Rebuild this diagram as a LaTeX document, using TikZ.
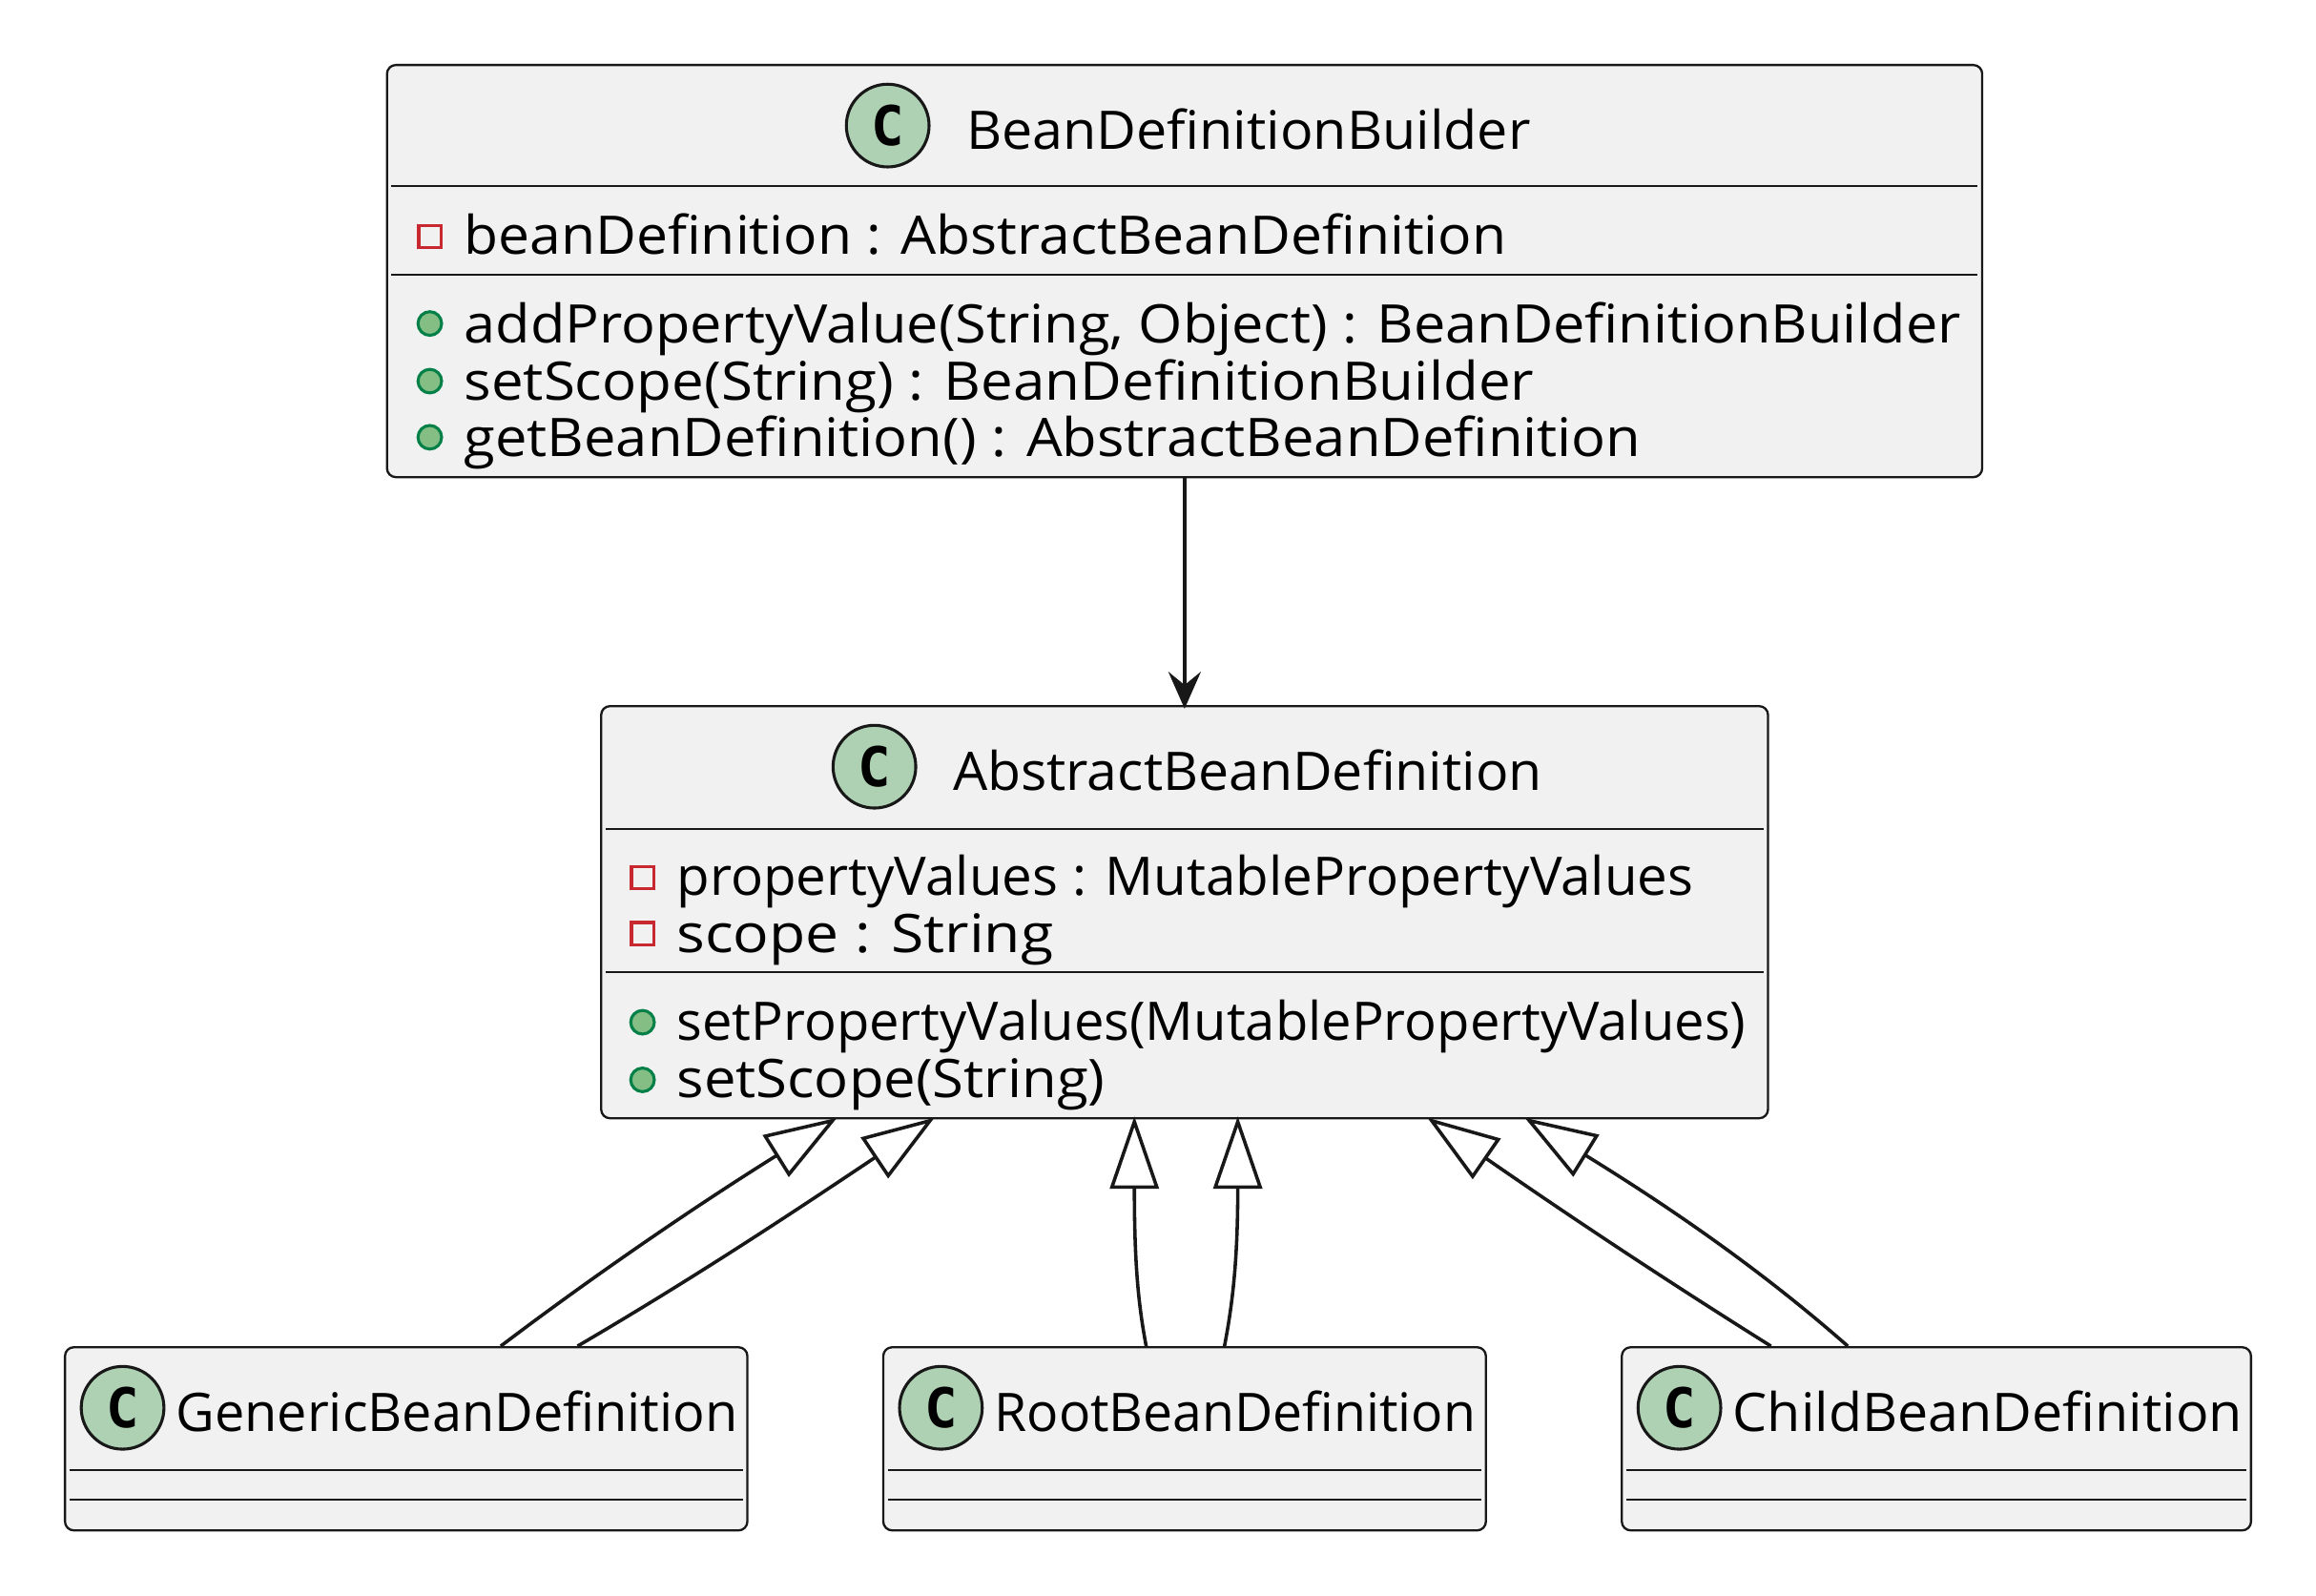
\documentclass[tikz,border=0pt]{standalone}
\usepackage{fontspec}
\setmainfont{Open Sans}[FakeStretch=1.062]
\newfontfamily\cfont{DejaVu Sans Mono}
\usetikzlibrary{arrows.meta}
\definecolor{boxfill}{HTML}{F1F1F1}
\definecolor{ink}{HTML}{181818}
\definecolor{spot}{HTML}{ADD1B2}
\definecolor{privred}{HTML}{C82930}
\definecolor{pubfill}{HTML}{84BE84}
\definecolor{publine}{HTML}{038048}
\newcommand{\fitx}[2]{\scalebox{#1}[1]{#2}}
\tikzset{
  x=1pt,y=-1pt,
  umlbox/.style={draw=ink,fill=boxfill,line width=1.5pt,rounded corners=6pt,inner sep=0pt},
  sepline/.style={draw=ink,line width=1.5pt},
  label/.style={anchor=base west,inner sep=0pt,text=black,font=\fontsize{36}{39}\selectfont},
  spotc/.style={circle,draw=ink,fill=spot,line width=2pt,minimum size=56pt,inner sep=0pt,font=\cfont\bfseries\fontsize{37}{37}\selectfont},
  priv/.style={draw=privred,line width=2pt,minimum size=15pt,inner sep=0pt,rectangle},
  pub/.style={circle,draw=publine,fill=pubfill,line width=2pt,minimum size=16pt,inner sep=0pt},
  link/.style={draw=ink,line width=2.3pt},
  inherit/.style={link,shorten >=-2pt,-{Triangle[open,length=49pt,width=33pt,fill=white]}},
  assoc/.style={link,shorten >=-2.5pt,-{Stealth[length=25pt,width=22pt,inset=9pt]}},
}
\begin{document}
\begin{tikzpicture}
\useasboundingbox (0,0) rectangle (1568,1079.8);
% Boxes
\node[umlbox,minimum width=1080pt,minimum height=279pt] (builder) at (802,183.5) {};
\node[umlbox,minimum width=790pt,minimum height=279pt] (abstract) at (802,617.5) {};
\node[umlbox,minimum width=462pt,minimum height=124pt] (generic) at (275,974) {};
\node[umlbox,minimum width=408pt,minimum height=124pt] (root) at (802,974) {};
\node[umlbox,minimum width=426pt,minimum height=124pt] (child) at (1311,974) {};
% Separators
\draw[sepline] (265,126) -- (1339,126);
\draw[sepline] (265,186) -- (1339,186);
\draw[sepline] (410,561) -- (1194,561);
\draw[sepline] (410,658) -- (1194,658);
\draw[sepline] (47,995) -- (503,995);
\draw[sepline] (47,1015) -- (503,1015);
\draw[sepline] (601,995) -- (1003,995);
\draw[sepline] (601,1015) -- (1003,1015);
\draw[sepline] (1101,995) -- (1521,995);
\draw[sepline] (1101,1015) -- (1521,1015);
% Spots
\node[spotc] (s1) at (601,85) {C};
\node[spotc] (s2) at (592,519) {C};
\node[spotc] (s3) at (83,953) {C};
\node[spotc] (s4) at (637,953) {C};
\node[spotc] (s5) at (1137,953) {C};
% Titles
\node[label] (t1) at (654,101) {\fitx{0.97}{BeanDefinitionBuilder}};
\node[label] (t2) at (645,535) {\fitx{0.966}{AbstractBeanDefinition}};
\node[label] (t3) at (119,969) {\fitx{0.943}{GenericBeanDefinition}};
\node[label] (t4) at (673,969) {\fitx{0.934}{RootBeanDefinition}};
\node[label] (t5) at (1173,969) {\fitx{0.969}{ChildBeanDefinition}};
% Members
\node[priv] (p1) at (291,160) {};
\node[label] (m1) at (314,172) {\fitx{0.993}{beanDefinition : AbstractBeanDefinition}};
\node[pub] (p2) at (291,219) {};
\node[label] (m2) at (314,232) {\fitx{1.004}{addPropertyValue(String, Object) : BeanDefinitionBuilder}};
\node[pub] (p3) at (291,258) {};
\node[label] (m3) at (314,271) {\fitx{1.014}{setScope(String) : BeanDefinitionBuilder}};
\node[pub] (p4) at (291,296) {};
\node[label] (m4) at (314,309) {\fitx{1.008}{getBeanDefinition() : AbstractBeanDefinition}};
\node[priv] (p5) at (435,594) {};
\node[label] (m5) at (458,606) {\fitx{0.954}{propertyValues : MutablePropertyValues}};
\node[priv] (p6) at (435,632) {};
\node[label] (m6) at (458,645) {\fitx{1.054}{scope : String}};
\node[pub] (p7) at (435,692) {};
\node[label] (m7) at (458,704) {\fitx{0.948}{setPropertyValues(MutablePropertyValues)}};
\node[pub] (p8) at (435,731) {};
\node[label] (m8) at (458,743) {\fitx{1.01}{setScope(String)}};
% Connectors
\draw[assoc] (builder.south) -- (abstract.north);
\draw[inherit] ([xshift=64pt]generic.north) .. controls (400,865) and (470,817) .. ([xshift=-237pt]abstract.south);
\draw[inherit] ([xshift=116pt]generic.north) .. controls (470,865) and (535,822) .. ([xshift=-171pt]abstract.south);
\draw[inherit] ([xshift=-26pt]root.north) .. controls (770,880) and (768,850) .. ([xshift=-34pt]abstract.south);
\draw[inherit] ([xshift=27pt]root.north) .. controls (835,880) and (838,850) .. ([xshift=36pt]abstract.south);
\draw[inherit] ([xshift=-112pt]child.north) .. controls (1130,868) and (1065,825) .. ([xshift=166pt]abstract.south);
\draw[inherit] ([xshift=-60pt]child.north) .. controls (1195,862) and (1135,820) .. ([xshift=232pt]abstract.south);
\end{tikzpicture}
\end{document}
